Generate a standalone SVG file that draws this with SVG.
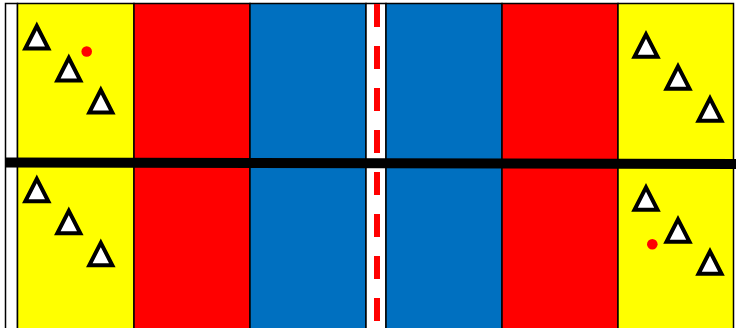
<svg xmlns="http://www.w3.org/2000/svg" width="736" height="328" viewBox="0 0 736 328">
<style>
.col{stroke:#000;stroke-width:1.5}
.y{fill:#FFFF00}.r{fill:#FF0000}.b{fill:#0070C0}.w{fill:#FFFFFF}
.tri{fill:#FFFFFF;stroke:#000;stroke-width:4;stroke-linejoin:miter}
.dot{fill:#FF0000}
</style>
<defs>
<path id="t" d="M0,0 L11.5,22.5 L-11.5,22.5 Z"/>
</defs>
<rect width="736" height="328" fill="#FFFFFF"/>
<g id="columns">
<rect class="col w" x="5.5" y="3.5" width="12" height="340"/>
<rect class="col y" x="17.5" y="3.5" width="116.5" height="340"/>
<rect class="col r" x="134" y="3.5" width="116" height="340"/>
<rect class="col b" x="250" y="3.5" width="116" height="340"/>
<rect class="col w" x="366" y="3.5" width="20" height="340"/>
<rect class="col b" x="386" y="3.5" width="116" height="340"/>
<rect class="col r" x="502" y="3.5" width="116" height="340"/>
<rect class="col y" x="618" y="3.5" width="115.5" height="340"/>
</g>
<g id="centre-line">
<line x1="377" y1="4" x2="377" y2="328" stroke="#FF0000" stroke-width="6" stroke-dasharray="23 19"/>
</g>
<g id="divider">
<line x1="5" y1="162.5" x2="736" y2="164" stroke="#000" stroke-width="10"/>
</g>
<g id="left-top">
<use href="#t" class="tri" x="36.8" y="26"/>
<use href="#t" class="tri" x="68.8" y="58"/>
<use href="#t" class="tri" x="100.8" y="90"/>
<circle class="dot" cx="86.7" cy="51.5" r="5.3"/>
</g>
<g id="left-bottom">
<use href="#t" class="tri" x="36.8" y="178.8"/>
<use href="#t" class="tri" x="68.8" y="210.8"/>
<use href="#t" class="tri" x="100.8" y="242.8"/>
</g>
<g id="right-top">
<use href="#t" class="tri" x="646" y="34.3"/>
<use href="#t" class="tri" x="678" y="66.3"/>
<use href="#t" class="tri" x="710" y="98.3"/>
</g>
<g id="right-bottom">
<use href="#t" class="tri" x="646" y="187.3"/>
<use href="#t" class="tri" x="678" y="219.3"/>
<use href="#t" class="tri" x="710" y="251.3"/>
<circle class="dot" cx="652.3" cy="244.3" r="5.3"/>
</g>
</svg>
